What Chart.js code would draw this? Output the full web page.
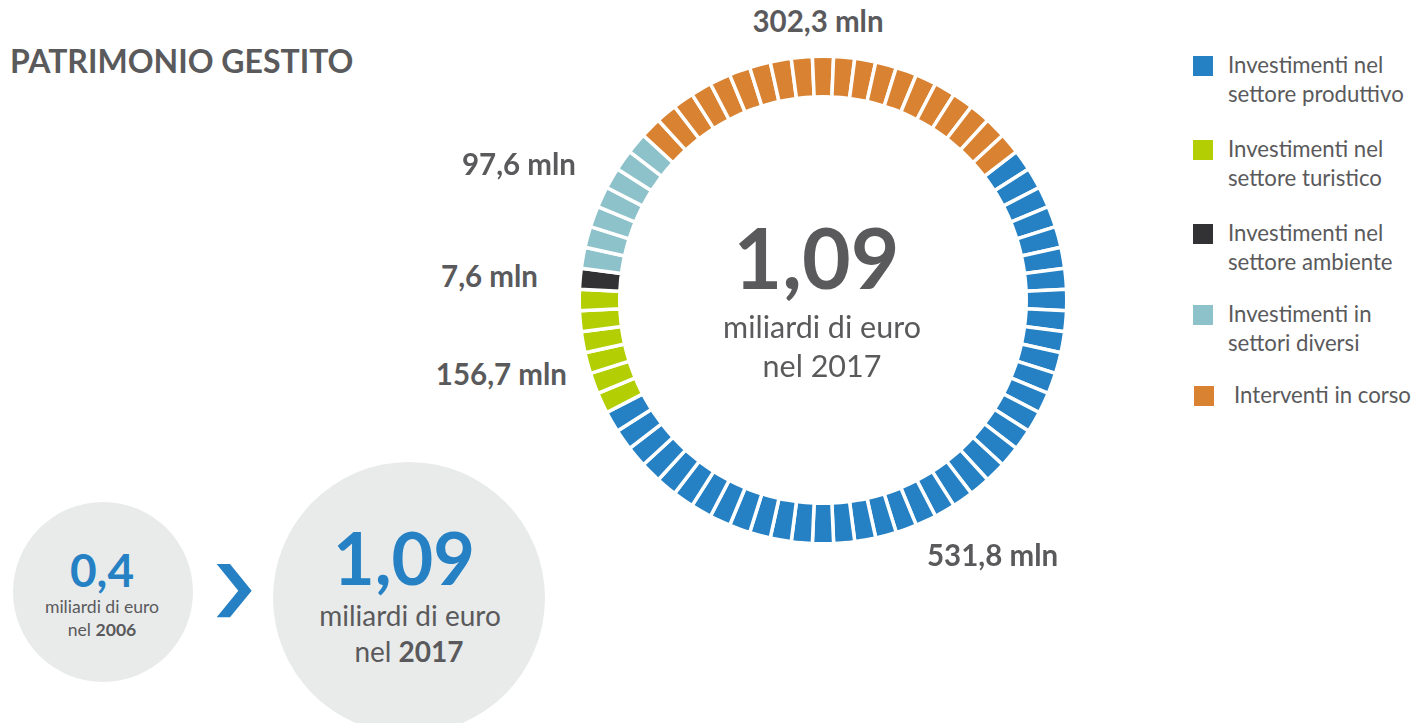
<!DOCTYPE html>
<html>
<head>
<meta charset="utf-8">
<script src="https://cdn.jsdelivr.net/npm/chart.js@4/dist/chart.umd.min.js"></script>
<style>
  body { margin: 0; background: #fff; }
  #page { position: relative; width: 1414px; height: 723px; overflow: hidden; font-family: Lato, "Open Sans", sans-serif; color: #5a5a5c; }
  .t { position: absolute; white-space: nowrap; line-height: 1; }
  .dot { position: absolute; border-radius: 50%; background: #e9ebeb; }
  #ring { position: absolute; left: 573px; top: 50px; width: 500px; height: 500px; }
  .sq { position: absolute; width: 20px; height: 20px; }
</style>
</head>
<body>
<div id="page">
  <div class="dot" style="left:13px;top:502px;width:180px;height:180px"></div>
  <div class="dot" style="left:273px;top:462px;width:272px;height:272px"></div>
  <svg style="position:absolute;left:0;top:0" width="300" height="700">
    <polygon points="216.7,564 230,564 251.7,590.7 230,617.3 216.7,617.3 238.3,590.7" fill="#2581c4"/>
  </svg>
  <div id="ring"><canvas id="donut"></canvas></div>
</div>
<script>
// categorie e valori (mln di euro)
const categories = [
  'Investimenti nel\nsettore produttivo',
  'Investimenti nel\nsettore turistico',
  'Investimenti nel\nsettore ambiente',
  'Investimenti in\nsettori diversi',
  'Interventi in corso'
];
const values = [531.8, 156.7, 7.6, 97.6, 302.3];
// numero di tasselli disegnati per ogni categoria nell'anello
const blockCounts = [38, 6, 1, 7, 20];
const colors = ['#2581c4', '#b3cf04', '#323234', '#8dc2cb', '#d88232'];

const page = document.getElementById('page');

function place(text, x, baseline, size, opts) {
  opts = opts || {};
  const d = document.createElement('div');
  d.className = 't';
  d.innerHTML = text;
  d.style.fontSize = size + 'px';
  d.style.fontWeight = opts.bold ? '700' : '400';
  if (opts.color) d.style.color = opts.color;
  d.style.top = (baseline - 0.887 * size) + 'px';
  const align = opts.align || 'left';
  if (align == 'left') d.style.left = x + 'px';
  if (align == 'right') d.style.right = (1414 - x) + 'px';
  if (align == 'center') { d.style.left = x + 'px'; d.style.transform = 'translateX(-50%)'; }
  page.appendChild(d);
  return d;
}

function fmt(v) {
  return v.toFixed(1).replace('.', ',') + ' mln';
}

// titolo
place('PATRIMONIO GESTITO', 10, 73.5, 32, {bold: true});

// anello a tasselli
let slices = [];
let sliceColors = [];
blockCounts.forEach((n, i) => {
  for (let k = 0; k < n; k++) {
    slices.push(1);
    sliceColors.push(colors[i]);
  }
});

const donut = new Chart(document.getElementById('donut'), {
  type: 'doughnut',
  data: {
    labels: slices.map((s, i) => i),
    datasets: [{
      data: slices,
      backgroundColor: sliceColors,
      borderColor: '#ffffff',
      borderWidth: 3.5,
      hoverOffset: 0,
      radius: 243.75,
      cutout: '83.38%'
    }]
  },
  options: {
    responsive: true,
    maintainAspectRatio: false,
    animation: false,
    events: [],
    rotation: 52.5,
    layout: { padding: 0 },
    plugins: { legend: { display: false }, tooltip: { enabled: false } }
  }
});

// etichette dei valori attorno all'anello
const labelPos = [
  [927, 566, 'left'],
  [567, 385, 'right'],
  [538, 287, 'right'],
  [576, 175, 'right'],
  [818, 31.7, 'center']
];
values.forEach((v, i) => {
  const p = labelPos[i];
  place(fmt(v), p[0], p[1], 29.5, {bold: true, align: p[2]});
});

// testo al centro
place('1,09', 816.5, 290, 84, {bold: true, align: 'center'});
place('miliardi di euro', 822, 338, 30.5, {align: 'center'});
place('nel 2017', 822, 377, 30.5, {align: 'center'});

// legenda
const legendTops = [56, 140, 224, 305, 386];
categories.forEach((c, i) => {
  const sq = document.createElement('div');
  sq.className = 'sq';
  sq.style.background = colors[i];
  sq.style.left = (i == 4 ? 1194 : 1193) + 'px';
  sq.style.top = legendTops[i] + 'px';
  page.appendChild(sq);
  const lines = c.split('\n');
  if (lines.length == 1) {
    place(lines[0], 1234, legendTops[i] + 17.5, 22.2);
  } else {
    lines.forEach((l, j) => place(l, 1228, legendTops[i] + 17.5 + j * 29, 22.2));
  }
});

// confronto 2006 / 2017
place('0,4', 102, 588, 46, {bold: true, align: 'center', color: '#2581c4'});
place('miliardi di euro', 102, 614, 17.6, {align: 'center'});
place('nel <b>2006</b>', 102, 637, 17.6, {align: 'center'});
place('1,09', 404, 585, 72, {bold: true, align: 'center', color: '#2581c4'});
place('miliardi di euro', 410, 626, 28, {align: 'center'});
place('nel <b>2017</b>', 409, 662, 28, {align: 'center'});
</script>
</body>
</html>
